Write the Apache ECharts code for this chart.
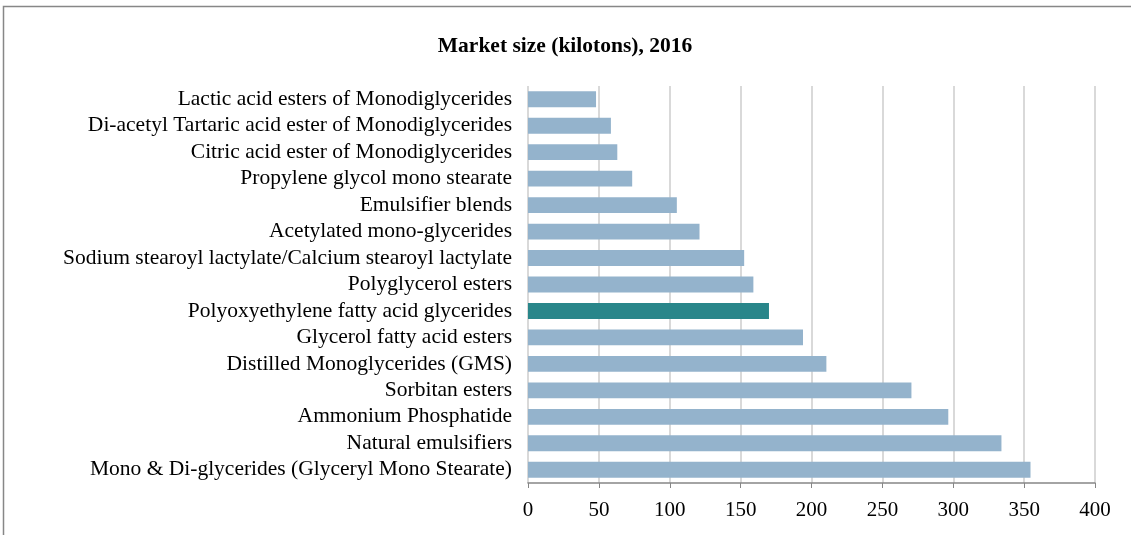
<!DOCTYPE html>
<html><head><meta charset="utf-8">
<script src="https://cdn.jsdelivr.net/npm/echarts@6/dist/echarts.min.js"></script>
<style>html,body{margin:0;padding:0;background:#fff}#c{width:1131px;height:535px}</style>
</head><body><div id="c"></div>
<script>
const title = 'Market size (kilotons), 2016';
const categories = [
  'Lactic acid esters of Monodiglycerides',
  'Di-acetyl Tartaric acid ester of Monodiglycerides',
  'Citric acid ester of Monodiglycerides',
  'Propylene glycol mono stearate',
  'Emulsifier blends',
  'Acetylated mono-glycerides',
  'Sodium stearoyl lactylate/Calcium stearoyl lactylate',
  'Polyglycerol esters',
  'Polyoxyethylene fatty acid glycerides',
  'Glycerol fatty acid esters',
  'Distilled Monoglycerides (GMS)',
  'Sorbitan esters',
  'Ammonium Phosphatide',
  'Natural emulsifiers',
  'Mono & Di-glycerides (Glyceryl Mono Stearate)'
];
const values = [48, 58.5, 63, 73.5, 105, 121, 152.5, 159, 170, 194, 210.5, 270.5, 296.5, 334, 354.5];
const highlighted = 'Polyoxyethylene fatty acid glycerides';
const xTicks = [0, 50, 100, 150, 200, 250, 300, 350, 400];

const chart = echarts.init(document.getElementById('c'));
const font = '"Liberation Serif","Times New Roman",serif';
chart.setOption({
  animation: false,
  title: {text: title, left: 560, top: 30, textAlign: 'center',
    textStyle: {fontFamily: font, fontWeight: 'bold', fontSize: 21.5, color: '#000'}},
  graphic: [{type: 'rect', shape: {x: 3.5, y: 6.5, width: 1140, height: 540},
    style: {fill: 'none', stroke: '#878787', lineWidth: 1.5}, silent: true}],
  grid: {left: 528, right: 36, top: 86, bottom: 52, containLabel: false},
  xAxis: {type: 'value', min: xTicks[0], max: xTicks[xTicks.length - 1], interval: 50,
    axisLine: {show: true, lineStyle: {color: '#868686', width: 1.5}},
    axisTick: {show: true, length: 5, lineStyle: {color: '#868686'}},
    axisLabel: {fontFamily: font, fontSize: 21, color: '#000', margin: 17},
    splitLine: {show: true, lineStyle: {color: '#d9d9d9', width: 2}}},
  yAxis: {type: 'category', data: categories, inverse: true,
    axisLine: {show: false}, axisTick: {show: false},
    axisLabel: {interval: 0, fontFamily: font, fontSize: 21.5, color: '#000', margin: 16}},
  series: [{type: 'bar', barCategoryGap: '40%',
    data: values.map((v, i) => ({value: v,
      itemStyle: {color: categories[i] === highlighted ? '#29868a' : '#94b3cc'}}))}]
});
</script></body></html>
